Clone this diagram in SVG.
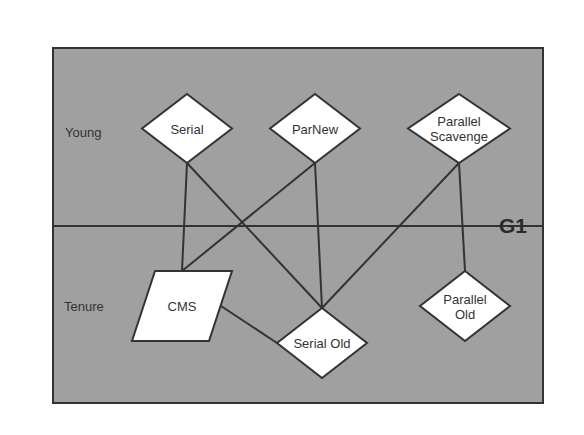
<svg xmlns="http://www.w3.org/2000/svg" width="584" height="435" viewBox="0 0 584 435">
<style>
.bg{fill:#a0a0a0;stroke:#333;stroke-width:2}
.node{fill:#fff;stroke:#333;stroke-width:2}
.ln{stroke:#333;stroke-width:2;fill:none}
text{font-family:"Liberation Sans",Arial,sans-serif;font-size:13px;fill:#333;text-anchor:middle}
.lbl{text-anchor:start}
.g1{font-weight:bold;font-size:21px;text-anchor:start;fill:#2a2a2a}
</style>
<rect width="584" height="435" fill="#fff"/>
<g id="frame">
<rect class="bg" x="53" y="48" width="490" height="355"/>
<line class="ln" x1="53" y1="226" x2="543" y2="226"/>
<text class="lbl" x="65" y="137">Young</text>
<text class="lbl" x="64" y="311">Tenure</text>
<text class="g1" x="499" y="233">G1</text>
</g>
<g id="connectors">
<line class="ln" x1="187" y1="163" x2="182" y2="271"/>
<line class="ln" x1="187" y1="163" x2="322" y2="308"/>
<line class="ln" x1="315" y1="163" x2="182" y2="271"/>
<line class="ln" x1="315" y1="163" x2="322" y2="308"/>
<line class="ln" x1="459" y1="163" x2="322" y2="308"/>
<line class="ln" x1="459" y1="163" x2="465" y2="271"/>
<line class="ln" x1="221" y1="306" x2="277" y2="343"/>
</g>
<g id="serial">
<polygon class="node" points="187,94 232,128.5 187,163 142,128.5"/>
<text x="187" y="134">Serial</text>
</g>
<g id="parnew">
<polygon class="node" points="315,94 360,128.5 315,163 270,128.5"/>
<text x="315" y="134">ParNew</text>
</g>
<g id="parallel-scavenge">
<polygon class="node" points="459,94 510,128.5 459,163 408,128.5"/>
<text x="459" y="126">Parallel</text>
<text x="459" y="141">Scavenge</text>
</g>
<g id="cms">
<polygon class="node" points="155,271 232,271 209,341 132,341"/>
<text x="182" y="311">CMS</text>
</g>
<g id="serial-old">
<polygon class="node" points="322,308 367,343 322,378 277,343"/>
<text x="322" y="348">Serial Old</text>
</g>
<g id="parallel-old">
<polygon class="node" points="465,271 510,306 465,341 420,306"/>
<text x="465" y="304">Parallel</text>
<text x="465" y="319">Old</text>
</g>
</svg>
